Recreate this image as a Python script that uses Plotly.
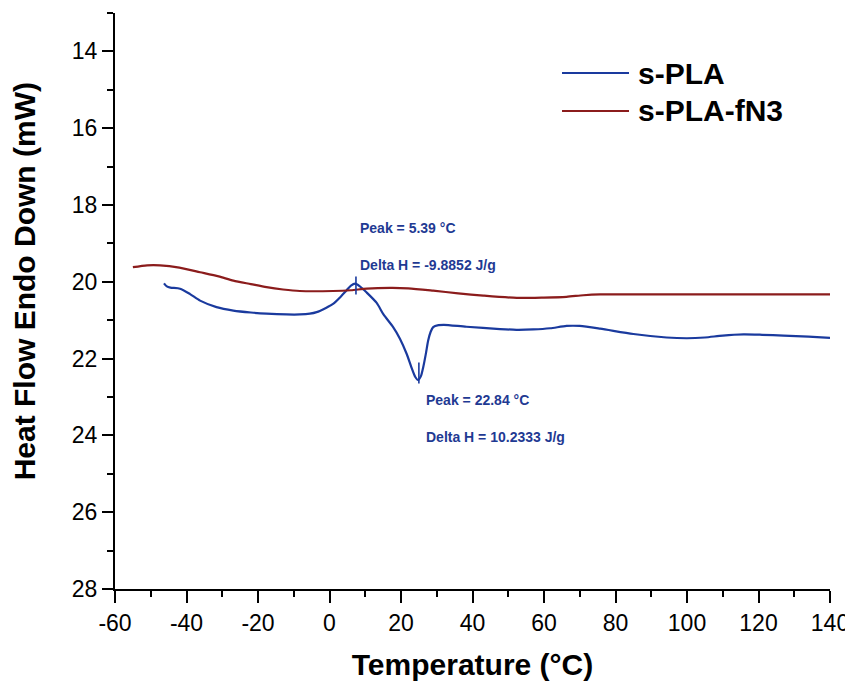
import plotly.graph_objects as go

# ---- data ----
series_names = ["s-PLA", "s-PLA-fN3"]
series_colors = ["#1a3a9e", "#8b1c1c"]

pla_x = [-46.3, -45.5, -44.5, -41.8, -39.0, -36.2, -31.6, -26.9, -22.0, -17.6, -12.0, -8.3,
         -5.5, -3.6, -1.0, 1.1, 3.0, 4.8, 6.0, 7.2, 8.5, 10.4, 13.2, 15.1, 17.8, 19.7, 21.6,
         23.0, 24.0, 24.8, 25.6, 26.2, 27.0, 27.6, 28.3, 29.0, 30.5, 32.0, 38.3, 47.7, 52.3,
         57.0, 61.7, 66.3, 70.0, 75.7, 85.0, 94.3, 100.0, 105.0, 110.0, 115.8, 121.0, 127.0,
         134.0, 140.0]
pla_y = [20.04, 20.12, 20.15, 20.18, 20.32, 20.49, 20.66, 20.75, 20.80, 20.83, 20.85, 20.85,
         20.83, 20.79, 20.68, 20.57, 20.40, 20.22, 20.10, 20.05, 20.12, 20.28, 20.55, 20.85,
         21.18, 21.48, 21.88, 22.25, 22.48, 22.56, 22.45, 22.23, 21.85, 21.53, 21.30, 21.18,
         21.13, 21.12, 21.17, 21.23, 21.25, 21.24, 21.21, 21.15, 21.15, 21.22, 21.36, 21.45,
         21.47, 21.45, 21.40, 21.37, 21.38, 21.40, 21.43, 21.46]

fn3_x = [-55.0, -51.0, -47.4, -42.0, -36.2, -31.0, -26.9, -22.0, -17.6, -13.0, -8.3, 1.0,
         6.0, 10.4, 16.9, 22.0, 29.0, 36.0, 43.0, 52.4, 60.0, 66.3, 71.0, 75.7, 90.0, 110.0,
         125.0, 140.0]
fn3_y = [19.62, 19.57, 19.57, 19.63, 19.75, 19.86, 19.97, 20.06, 20.14, 20.20, 20.24, 20.24,
         20.22, 20.18, 20.16, 20.17, 20.23, 20.30, 20.36, 20.42, 20.41, 20.39, 20.35, 20.33,
         20.33, 20.33, 20.33, 20.33]

# peak markers (x, y_top, y_bottom) and their labels
peak_x = [7.4, 25.0]
peak_top = [19.86, 22.10]
peak_bottom = [20.33, 22.65]
peak_labels = [["Peak = 5.39 °C", "Delta H = -9.8852 J/g"],
               ["Peak = 22.84 °C", "Delta H = 10.2333 J/g"]]
label_x = [8.0, 26.4]
label_y = [[18.61, 19.57], [23.07, 24.04]]

x_ticks = list(range(-60, 141, 20))
y_ticks = list(range(14, 29, 2))

FONT = "Liberation Sans, Arial, sans-serif"

fig = go.Figure()
fig.add_trace(go.Scatter(x=pla_x, y=pla_y, mode="lines", name=series_names[0],
                         line=dict(color=series_colors[0], width=2.2, shape="spline", smoothing=0.7)))
fig.add_trace(go.Scatter(x=fn3_x, y=fn3_y, mode="lines", name=series_names[1],
                         line=dict(color=series_colors[1], width=2.2, shape="spline", smoothing=0.7)))

for px, t, b in zip(peak_x, peak_top, peak_bottom):
    fig.add_trace(go.Scatter(x=[px, px], y=[t, b], mode="lines", showlegend=False,
                             line=dict(color=series_colors[0], width=1.6), hoverinfo="skip"))

annotations = []
for lx, ly, labs in zip(label_x, label_y, peak_labels):
    for yy, txt in zip(ly, labs):
        annotations.append(dict(x=lx, y=yy, xref="x", yref="y", text=txt, showarrow=False,
                                xanchor="left", yanchor="middle",
                                font=dict(family=FONT, size=14, color="#1f3a93", weight="bold")))

# manual legend (paper coordinates)
leg_y = [0.8958, 0.8299]
shapes = []
for name, col, ly in zip(series_names, series_colors, leg_y):
    shapes.append(dict(type="line", xref="paper", yref="paper", x0=0.6252, x1=0.7189,
                       y0=ly, y1=ly, line=dict(color=col, width=2.2)))
    annotations.append(dict(x=0.728, y=ly, xref="paper", yref="paper", text="<b>%s</b>" % name,
                            showarrow=False, xanchor="left", yanchor="middle",
                            font=dict(family=FONT, size=30, color="black")))

# y-axis title as annotation
annotations.append(dict(x=-0.126, y=0.534, xref="paper", yref="paper",
                        text="<b>Heat Flow Endo Down (mW)</b>", textangle=-90, showarrow=False,
                        xanchor="center", yanchor="middle",
                        font=dict(family=FONT, size=30, color="black")))

# page body has an 8px margin: shrink the figure so the plot lands where it should
fig.update_layout(
    width=845, height=673,
    margin=dict(l=107, r=23, t=5, b=92),
    plot_bgcolor="white", paper_bgcolor="white",
    showlegend=False,
    font=dict(family=FONT, color="black"),
    annotations=annotations,
    shapes=shapes,
)
fig.update_xaxes(
    range=[-60, 140], tickvals=x_ticks, ticktext=[str(v) for v in x_ticks],
    showgrid=False, zeroline=False, showline=True, linecolor="black", linewidth=2,
    ticks="outside", ticklen=12, tickwidth=2, tickcolor="black", ticklabeloverflow="allow",
    minor=dict(dtick=10, ticks="outside", ticklen=6, tickwidth=2, tickcolor="black", showgrid=False),
    tickfont=dict(family=FONT, size=23, color="black"),
    title=dict(text="<b>Temperature (°C)</b>", font=dict(family=FONT, size=30, color="black"), standoff=20),
)
fig.update_yaxes(
    range=[28, 13], tickvals=y_ticks, ticktext=[str(v) for v in y_ticks],
    showgrid=False, zeroline=False, showline=True, linecolor="black", linewidth=2,
    ticks="outside", ticklen=11, tickwidth=2, tickcolor="black", ticklabelstandoff=0,
    minor=dict(dtick=1, ticks="outside", ticklen=6, tickwidth=2, tickcolor="black", showgrid=False),
    tickfont=dict(family=FONT, size=23, color="black"),
)

fig.write_html("out.html")
